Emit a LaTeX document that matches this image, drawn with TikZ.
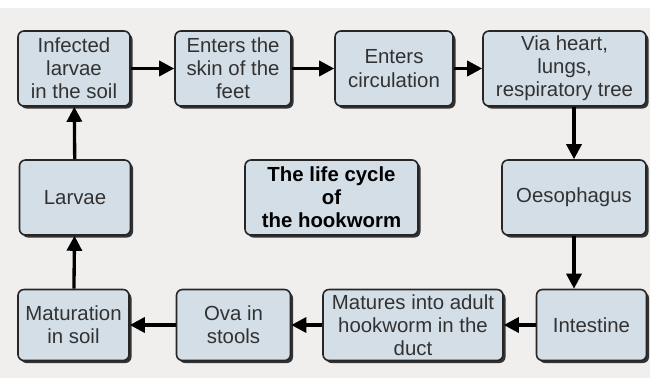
\documentclass[tikz,border=0pt]{standalone}
\usepackage{fontspec}
\setmainfont{Liberation Sans}
\usetikzlibrary{arrows.meta,shadows}
\definecolor{bgc}{RGB}{240,239,237}
\definecolor{boxc}{RGB}{211,222,230}
\definecolor{txtc}{RGB}{50,50,50}

\begin{document}
\begin{tikzpicture}[>={Triangle[length=0.3cm,width=0.3cm]},
  stage/.style={draw=black!85,line width=0.9pt,fill=boxc,rounded corners=0.12cm,
    drop shadow={shadow xshift=0.05cm,shadow yshift=-0.05cm,fill=black!80,opacity=1},
    align=center,inner sep=0pt,text=txtc,
    font=\fontsize{11.6}{13.2}\selectfont,minimum height=1.5cm},
  every edge/.style={draw,line width=1.9pt}]
  \fill[bgc] (0,0) rectangle (13,-7.56);
  \fill[white] (0,0) rectangle (13,-0.16);
  \useasboundingbox (0,0) rectangle (13,-7.56);
  % top row
  \node[stage,minimum width=2.24cm] (soil) at (1.48,-1.37) {Infected\\larvae\\in the soil};
  \node[stage,minimum width=2.32cm] (skin) at (4.66,-1.37) {Enters the\\skin of the\\feet};
  \node[stage,minimum width=2.36cm] (circ) at (7.88,-1.37) {Enters\\circulation};
  \node[stage,minimum width=3.26cm] (heart) at (11.29,-1.37) {Via heart,\\lungs,\\respiratory tree};
  % middle row
  \node[stage,minimum width=2.22cm] (larvae) at (1.5,-3.95) {Larvae};
  \node[stage,minimum width=3.46cm,text=black,font=\fontsize{11.6}{13.2}\selectfont\bfseries]
    (title) at (6.63,-3.95) {The life cycle\\of\\the hookworm};
  \node[stage,minimum width=2.88cm] (oeso) at (11.48,-3.95) {Oesophagus};
  % bottom row
  \node[stage,minimum width=2.22cm,minimum height=1.42cm] (matsoil) at (1.47,-6.5) {Maturation\\in soil};
  \node[stage,minimum width=2.28cm,minimum height=1.42cm] (ova) at (4.67,-6.5) {Ova in\\stools};
  \node[stage,minimum width=3.6cm,minimum height=1.42cm] (adult) at (8.26,-6.5) {Matures into adult\\hookworm in the\\duct};
  \node[stage,minimum width=2.2cm,minimum height=1.42cm] (intest) at (11.83,-6.5) {Intestine};
  \path[->] (soil) edge (skin)
            (skin) edge (circ)
            (circ) edge (heart)
            (heart.south -| oeso.north) edge (oeso.north)
            (oeso) edge (oeso.south |- intest.north)
            (intest) edge (adult)
            (adult) edge (ova)
            (ova) edge (matsoil)
            (matsoil) edge (larvae)
            (larvae) edge (soil);
\end{tikzpicture}
\end{document}
